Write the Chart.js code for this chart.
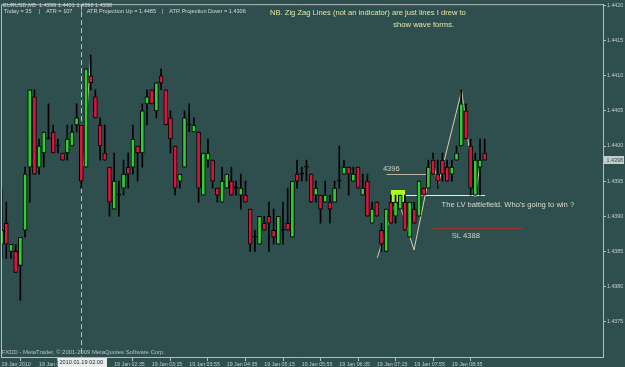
<!DOCTYPE html>
<html><head><meta charset="utf-8">
<script src="https://cdn.jsdelivr.net/npm/chart.js@4"></script>
<style>html,body{margin:0;padding:0;background:#2f4f4f;overflow:hidden}canvas{display:block}</style>
</head><body><canvas id="c" width="625" height="367"></canvas>
<script>
// ---- data (EURUSD M5, 19 Jan 2010, from 00:35) ----
const opens  = [1.4386,1.4389,1.4385,1.4385,1.4383,1.4388,1.4397,1.4407,1.4397,1.4399,1.4401,1.4402,1.4400,1.4399,1.4399,1.4400,1.4403,1.4403,1.4397,1.4410,1.4407,1.4403,1.4399,1.4397,1.4391,1.4393,1.4394,1.4397,1.4397,1.4400,1.4399,1.4406,1.4408,1.4405,1.4410,1.4408,1.4404,1.4400,1.4395,1.4397,1.4403,1.4402,1.4402,1.4393,1.4398,1.4398,1.4394,1.4392,1.4394,1.4395,1.4394,1.4393,1.4393,1.4391,1.4387,1.4386,1.4389,1.4390,1.4388,1.4386,1.4388,1.4389,1.4387,1.4396,1.4396,1.4397,1.4396,1.4393,1.4393,1.4392,1.4392,1.4392,1.4395,1.4396,1.4397,1.4395,1.4397,1.4393,1.4395,1.4389,1.4392,1.4388,1.4385,1.4392,1.4390,1.4391,1.4392,1.4387,1.4391,1.4390,1.4394,1.4394,1.4398,1.4396,1.4398,1.4397,1.4396,1.4398,1.4400,1.4405,1.4400,1.4393,1.4397,1.4399];
const highs  = [1.4394,1.4392,1.4386,1.4386,1.4387,1.4397,1.4408,1.4408,1.4401,1.4402,1.4406,1.4403,1.4401,1.4399,1.4403,1.4403,1.4406,1.4403,1.4411,1.4413,1.4408,1.4404,1.4403,1.4397,1.4399,1.4395,1.4398,1.4399,1.4403,1.4400,1.4406,1.4408,1.4408,1.4409,1.4411,1.4408,1.4405,1.4400,1.4396,1.4405,1.4406,1.4404,1.4402,1.4399,1.4401,1.4398,1.4394,1.4397,1.4396,1.4397,1.4395,1.4396,1.4395,1.4391,1.4388,1.4390,1.4390,1.4392,1.4391,1.4390,1.4392,1.4394,1.4395,1.4398,1.4397,1.4398,1.4396,1.4395,1.4393,1.4395,1.4393,1.4395,1.4400,1.4398,1.4397,1.4397,1.4397,1.4396,1.4396,1.4392,1.4392,1.4389,1.4391,1.4393,1.4393,1.4393,1.4393,1.4392,1.4392,1.4395,1.4394,1.4398,1.4399,1.4398,1.4399,1.4398,1.4398,1.4400,1.4408,1.4406,1.4401,1.4399,1.4401,1.4401];
const lows   = [1.4384,1.4384,1.4384,1.4382,1.4378,1.4387,1.4392,1.4396,1.4396,1.4397,1.4401,1.4399,1.4399,1.4398,1.4398,1.4400,1.4402,1.4394,1.4397,1.4408,1.4404,1.4398,1.4398,1.4390,1.4391,1.4390,1.4393,1.4394,1.4396,1.4395,1.4397,1.4403,1.4406,1.4404,1.4408,1.4403,1.4399,1.4393,1.4394,1.4397,1.4402,1.4402,1.4392,1.4393,1.4397,1.4394,1.4392,1.4392,1.4394,1.4393,1.4393,1.4391,1.4392,1.4385,1.4385,1.4386,1.4388,1.4385,1.4386,1.4386,1.4386,1.4388,1.4387,1.4394,1.4395,1.4395,1.4392,1.4392,1.4389,1.4392,1.4389,1.4392,1.4394,1.4396,1.4393,1.4395,1.4394,1.4393,1.4390,1.4389,1.4390,1.4385,1.4385,1.4389,1.4389,1.4391,1.4388,1.4387,1.4389,1.4390,1.4393,1.4394,1.4396,1.4394,1.4395,1.4395,1.4395,1.4398,1.4400,1.4401,1.4393,1.4393,1.4393,1.4398];
const closes = [1.4388,1.4386,1.4386,1.4382,1.4387,1.4396,1.4408,1.4396,1.4400,1.4402,1.4401,1.4399,1.4400,1.4398,1.4401,1.4402,1.4404,1.4395,1.4411,1.4409,1.4404,1.4400,1.4398,1.4392,1.4395,1.4393,1.4396,1.4396,1.4401,1.4399,1.4405,1.4407,1.4406,1.4409,1.4409,1.4403,1.4401,1.4394,1.4396,1.4404,1.4403,1.4403,1.4394,1.4399,1.4399,1.4395,1.4393,1.4395,1.4396,1.4393,1.4394,1.4394,1.4392,1.4386,1.4387,1.4390,1.4388,1.4389,1.4387,1.4390,1.4388,1.4388,1.4395,1.4395,1.4396,1.4397,1.4392,1.4394,1.4391,1.4393,1.4391,1.4394,1.4395,1.4397,1.4396,1.4396,1.4394,1.4394,1.4390,1.4391,1.4390,1.4386,1.4391,1.4389,1.4392,1.4393,1.4388,1.4392,1.4389,1.4395,1.4393,1.4397,1.4396,1.4395,1.4396,1.4395,1.4397,1.4399,1.4406,1.4401,1.4394,1.4398,1.4398,1.4398];
const yTicks = [1.4375,1.4380,1.4385,1.4390,1.4395,1.4400,1.4405,1.4410,1.4415,1.4420];
const xTickIdx = [0,8,16,24,32,40,48,56,64,72,80,88,96];
// hand-drawn zig zag lines: [bar index, price]
const zigRight = [[80.1,1.43841],[84.37,1.43928],[87.93,1.43852],[91.92,1.43982],[93.05,1.43944],[98.1,1.44079],[100.99,1.43928],[102.15,1.43980]];
const zigLeft  = [[17.46,1.43971],[19.0,1.44130]];
const dashIdx = 17;           // 2010.01.19 02:00
const lvl4396 = [82.1, 91.0, 1.4396];
const lvlLV   = [85.9, 103.1, 1.4393];
const lvlSL   = [92.05, 111.0, 1.43883];
const boxLV   = [82.96, 86.0, 1.43921, 1.43938];

function timeLabel(i){
  if (i === 0) return '19 Jan 2010';
  const m = 35 + 5*i, hh = Math.floor(m/60), mm = m % 60;
  return '19 Jan ' + String(hh).padStart(2,'0') + ':' + String(mm).padStart(2,'0');
}

const BG = '#2f4f4f', FRAME = '#b4bcbc', AXT = '#c4cccc';
const GREEN = '#32cd32', RED = '#dc143c';
const FONT = 'Liberation Sans, Arial, sans-serif';

const bodyColors = opens.map((o,i)=> closes[i] > o ? GREEN : (closes[i] < o ? RED : '#000'));

const annot = {
  id: 'annot',
  beforeDraw(chart){
    const c = chart.ctx; c.save(); c.fillStyle = BG; c.fillRect(0,0,chart.width,chart.height); c.restore();
  },
  beforeDatasetsDraw(chart){
    const {ctx, scales:{x,y}, chartArea:a} = chart;
    ctx.save();
    ctx.lineWidth = 1;
    // dashed vertical separator
    const dx = Math.round(x.getPixelForValue(dashIdx)) + 0.5;
    ctx.strokeStyle = '#b8c0c0'; ctx.setLineDash([5,3]);
    ctx.beginPath(); ctx.moveTo(dx, a.top); ctx.lineTo(dx, a.bottom); ctx.stroke();
    ctx.setLineDash([]);
    // lime box
    ctx.fillStyle = '#a6ff1e';
    const bx0 = x.getPixelForValue(boxLV[0]), bx1 = x.getPixelForValue(boxLV[1]);
    const by0 = y.getPixelForValue(boxLV[3]), by1 = y.getPixelForValue(boxLV[2]);
    ctx.fillRect(Math.round(bx0), Math.round(by0), Math.round(bx1-bx0), Math.round(by1-by0));
    const hl = (l, col) => {
      const yy = Math.round(y.getPixelForValue(l[2])) + 0.5;
      ctx.strokeStyle = col; ctx.beginPath();
      ctx.moveTo(x.getPixelForValue(l[0]), yy); ctx.lineTo(x.getPixelForValue(l[1]), yy); ctx.stroke();
    };
    hl(lvl4396, '#b8b8a4');
    hl(lvlLV, '#f0f0b8');
    hl(lvlSL, '#a03434');
    ctx.restore();
  },
  afterDatasetsDraw(chart){
    const {ctx, scales:{x,y}} = chart;
    ctx.save();
    ctx.textBaseline = 'middle'; ctx.textAlign = 'left';
    ctx.font = '7.6px ' + FONT;
    ctx.fillStyle = '#d0d0c0';
    ctx.fillText('4396', x.getPixelForValue(81.3), y.getPixelForValue(1.43968));
    ctx.fillText('SL 4388', x.getPixelForValue(95.97), y.getPixelForValue(1.43872));
    ctx.fillStyle = '#d8d8cc';
    ctx.fillText("The LV battlefield. Who's going to win ?", x.getPixelForValue(93.8), y.getPixelForValue(1.43916));
    ctx.restore();
  },
  afterDraw(chart){
    const {ctx, chartArea:a} = chart;
    ctx.save();
    // frame top + left
    ctx.strokeStyle = FRAME; ctx.lineWidth = 1;
    ctx.beginPath();
    ctx.moveTo(a.left + 0.5, a.bottom); ctx.lineTo(a.left + 0.5, a.top + 0.5); ctx.lineTo(a.right, a.top + 0.5);
    ctx.stroke();
    ctx.textBaseline = 'middle'; ctx.textAlign = 'left';
    // header
    const n = opens.length - 1;
    ctx.font = '5.6px ' + FONT; ctx.fillStyle = '#d4d8d8';
    ctx.fillText('EURUSD,M5  ' + [opens[n],highs[n],lows[n],closes[n]].map(v=>v.toFixed(4)).join(' '), 3, 5.6);
    ctx.fillText('Today = 35', 4, 11.7);
    ctx.fillText('|', 39, 11.7);
    ctx.fillText('ATR = 107', 46, 11.7);
    ctx.fillText('|', 81, 11.7);
    ctx.fillText('ATR Projection Up = 1.4485', 86.7, 11.7);
    ctx.fillText('|', 162, 11.7);
    ctx.fillText('ATR Projection Down = 1.4306', 169.3, 11.7);
    // note
    ctx.font = '7.6px ' + FONT; ctx.fillStyle = '#e4e4a8';
    ctx.fillText('NB. Zig Zag Lines (not an indicator) are just lines I drew to', 270, 13);
    ctx.fillText('show wave forms.', 393.3, 24.5);
    // footer
    ctx.font = '5.9px ' + FONT; ctx.fillStyle = '#b8c0c0';
    ctx.fillText('FXDD - MetaTrader, \u00a9 2001-2009 MetaQuotes Software Corp.', 1.7, 352.5);
    // highlighted time label
    ctx.fillStyle = '#e8ecec'; ctx.fillRect(58, 358, 49, 9);
    ctx.fillStyle = '#202828'; ctx.font = '5.6px ' + FONT;
    ctx.fillText('2010.01.19 02:00', 59.5, 362.8);
    // current price label
    const py = Math.round(chart.scales.y.getPixelForValue(closes[n]));
    ctx.fillStyle = '#c4cccc'; ctx.fillRect(604, py - 4, 20, 8);
    ctx.fillStyle = '#2f4f4f'; ctx.font = '5.4px ' + FONT;
    ctx.fillText(closes[n].toFixed(4), 606.5, py + 0.3);
    ctx.restore();
  }
};

new Chart(document.getElementById('c'), {
  type: 'bar',
  data: {
    datasets: [
      { type:'bar', label:'body', order:1, grouped:false,
        data: opens.map((o,i)=>({x:i, y:[o, closes[i]]})),
        backgroundColor: bodyColors, borderColor:'#000', borderWidth:1, borderSkipped:false,
        barThickness:4, minBarLength:1 },
      { type:'bar', label:'wick', order:2, grouped:false,
        data: lows.map((l,i)=>({x:i, y:[l, highs[i]]})),
        backgroundColor:'#000', borderWidth:0, barThickness:1 },
      { type:'line', label:'zigR', order:3,
        data: zigRight.map(p=>({x:p[0], y:p[1]})),
        borderColor:'#d8d0a8', borderWidth:1, pointRadius:0, fill:false, tension:0 },
      { type:'line', label:'zigL', order:3,
        data: zigLeft.map(p=>({x:p[0], y:p[1]})),
        borderColor:'#d8d0a8', borderWidth:1, pointRadius:0, fill:false, tension:0 }
    ]
  },
  options: {
    responsive:false, animation:false, devicePixelRatio:1,
    layout:{ padding:{ left:1, top:1, right:0, bottom:0 } },
    plugins:{ legend:{display:false}, tooltip:{enabled:false} },
    scales:{
      x:{ type:'linear', min:-0.128, max:128.23, offset:false, position:'bottom',
          grid:{ display:true, drawOnChartArea:false, drawTicks:true, tickLength:4, color:FRAME },
          border:{ display:true, color:FRAME },
          ticks:{ font:{family:FONT, size:5.3}, color:AXT, padding:0, align:'start', maxRotation:0, autoSkip:false,
                  callback:(v)=> timeLabel(v) },
          afterBuildTicks:(s)=>{ s.ticks = xTickIdx.map(v=>({value:v})); },
          afterFit:(s)=>{ s.height = 10; } },
      y:{ type:'linear', position:'right', min:1.436994, max:1.442021,
          grid:{ display:true, drawOnChartArea:false, drawTicks:true, tickLength:3, color:FRAME },
          border:{ display:true, color:FRAME },
          ticks:{ font:{family:FONT, size:5.3}, color:AXT, padding:1, callback:(v)=> v.toFixed(4) },
          afterBuildTicks:(s)=>{ s.ticks = yTicks.map(v=>({value:v})); },
          afterFit:(s)=>{ s.width = 22; } }
    }
  },
  plugins:[annot]
});
</script>
</body></html>
